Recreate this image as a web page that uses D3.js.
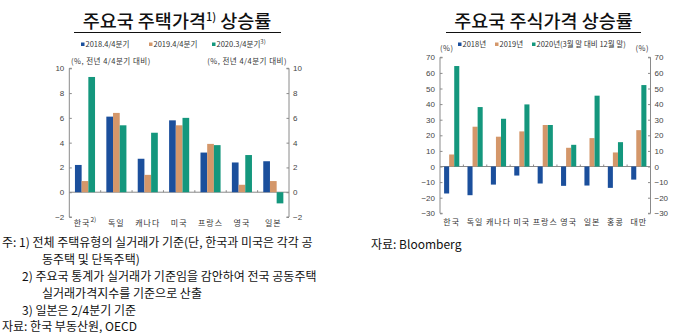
<!DOCTYPE html>
<html><head><meta charset="utf-8">
<script src="https://cdn.jsdelivr.net/npm/d3@7"></script>
<style>
body{margin:0;background:#fff;}
svg{display:block;font-family:"Noto Sans CJK KR","Noto Sans",sans-serif;}
</style></head>
<body><svg id="c" width="680" height="335"></svg>
<script>
// ---- Left chart data: 주요국 주택가격 상승률 ----
const houseCats = ["한국", "독일", "캐나다", "미국", "프랑스", "영국", "일본"];
const houseSeriesNames = ["2018.4/4분기", "2019.4/4분기", "2020.3/4분기"];
const house2018 = [2.2, 6.1, 2.7, 5.8, 3.2, 2.4, 2.5];
const house2019 = [0.9, 6.4, 1.4, 5.4, 3.9, 0.6, 0.9];
const house2020 = [9.3, 5.4, 4.8, 6.0, 3.8, 3.0, -0.9];
const houseTicks = [-2, 0, 2, 4, 6, 8, 10];

// ---- Right chart data: 주요국 주식가격 상승률 ----
const stockCats = ["한국", "독일", "캐나다", "미국", "프랑스", "영국", "일본", "홍콩", "대만"];
const stockSeriesNames = ["2018년", "2019년", "2020년(3월 말 대비 12월 말)"];
const stock2018 = [-17.3, -18.4, -11.6, -5.8, -10.9, -12.4, -12.2, -13.7, -8.4];
const stock2019 = [7.7, 25.5, 19.1, 22.5, 26.6, 12.0, 18.2, 9.0, 23.3];
const stock2020 = [64.4, 38.1, 30.6, 39.8, 26.6, 13.9, 45.4, 15.6, 52.2];
const stockTicks = [-30, -20, -10, 0, 10, 20, 30, 40, 50, 60, 70];

const colors = ["#1b4f9c", "#d4976a", "#14977d"];
const axisColor = "#8a8a8a";
const textColor = "#333";

const svg = d3.select("#c");

function drawChart(o) {
  const g = svg.append("g");
  const x0 = d3.scaleBand().domain(o.cats).range([o.x0, o.x1])
    .paddingInner(o.pin).paddingOuter(o.pout);
  const x1 = d3.scaleBand().domain([0, 1, 2]).range([0, x0.bandwidth()]);
  const y = d3.scaleLinear().domain(o.domain).range([o.yb, o.yt]);
  const rows = o.cats.map((c, i) => ({ c, v: o.series.map(s => s[i]) }));

  // left and right axes
  [["left", o.x0], ["right", o.x1]].forEach(([side, xp]) => {
    const ax = (side === "left" ? d3.axisLeft(y) : d3.axisRight(y))
      .tickValues(o.ticks).tickSize(-2.5).tickPadding(side === "left" ? 5 : 4)
      .tickFormat(d => d < 0 ? "\u2212" + Math.abs(d) : d);
    const a = g.append("g").attr("transform", `translate(${xp},0)`).call(ax);
    a.select(".domain").attr("stroke", axisColor)
      .attr("d", side === "left"
        ? `M2.5,${y(o.domain[1])}H0V${y(o.domain[0])}H2.5`
        : `M-2.5,${y(o.domain[1])}H0V${y(o.domain[0])}H-2.5`);
    a.selectAll(".tick line").attr("stroke", axisColor);
    a.selectAll(".tick text").attr("fill", "#444").style("font-size", "8px")
      .style("font-family", "Arial, 'Liberation Sans', sans-serif");
  });

  // zero baseline with separators
  const zero = y(0);
  g.append("line").attr("x1", o.x0).attr("x2", o.x1).attr("y1", zero).attr("y2", zero)
    .attr("stroke", axisColor).attr("stroke-width", 1);
  const step = x0.step();
  o.cats.slice(1).forEach(c => {
    const bx = x0(c) - step * o.pin / 2;
    g.append("line").attr("x1", bx).attr("x2", bx).attr("y1", zero).attr("y2", zero - 2)
      .attr("stroke", axisColor);
  });

  // bars
  const grp = g.selectAll(".grp").data(rows).join("g")
    .attr("transform", d => `translate(${x0(d.c)},0)`);
  grp.selectAll("rect").data(d => d.v.map((v, k) => ({ v, k }))).join("rect")
    .attr("x", d => x1(d.k)).attr("width", x1.bandwidth())
    .attr("y", d => y(Math.max(0, d.v)))
    .attr("height", d => Math.abs(y(d.v) - y(0)))
    .attr("fill", d => colors[d.k]);

  // category labels
  g.selectAll(".cat").data(o.cats).join("text")
    .attr("x", d => x0(d) + x0.bandwidth() / 2)
    .attr("y", o.catY).attr("text-anchor", "middle")
    .style("font-size", "8px").style("letter-spacing", "1px").attr("fill", textColor)
    .each(function (d) {
      const t = d3.select(this);
      t.append("tspan").text(d);
      if (o.catSup && o.catSup[d]) {
        t.append("tspan").attr("dy", -4).style("font-size", "6.5px").style("letter-spacing", "0px")
          .text(o.catSup[d]);
      }
    });

  // title
  const title = g.append("text").attr("x", o.titleX).attr("y", 28).attr("text-anchor", "middle")
    .style("font-size", "18.5px").style("font-weight", 500).attr("fill", "#111");
  o.title.forEach(p => {
    const ts = title.append("tspan").text(p.t);
    if (p.sup) ts.attr("dy", -7).style("font-size", "11px");
    if (p.back) ts.attr("dy", 7);
  });
  g.append("line").attr("x1", o.ulX0).attr("x2", o.ulX1).attr("y1", 32.5).attr("y2", 32.5)
    .attr("stroke", "#111").attr("stroke-width", 1.2);

  // legend
  o.legendX.forEach((lx, k) => {
    g.append("rect").attr("x", lx).attr("y", 42.5).attr("width", 3.5).attr("height", 3.5)
      .attr("fill", colors[k]);
    const t = g.append("text").attr("x", lx + 4.5).attr("y", 47).style("font-size", "7.5px")
      .attr("fill", textColor);
    t.append("tspan").text(o.names[k]);
    if (o.legendSup && o.legendSup[k]) {
      t.append("tspan").attr("dy", -3).style("font-size", "6px").text(o.legendSup[k]);
    }
  });

  // unit labels
  o.units.forEach(u => {
    g.append("text").attr("x", u.x).attr("y", u.y).attr("text-anchor", u.anchor)
      .style("font-size", "7.5px").style("letter-spacing", "0.5px").attr("fill", textColor).text(u.t);
  });
}

drawChart({
  cats: houseCats, series: [house2018, house2019, house2020], names: houseSeriesNames,
  x0: 69.3, x1: 289, pin: 0.36, pout: 0.18, domain: [-2, 10], yb: 217, yt: 68.3,
  ticks: houseTicks, catY: 226, catSup: { "한국": "2)" },
  title: [{ t: "주요국 주택가격" }, { t: "1)", sup: true }, { t: " 상승률", back: true }],
  titleX: 177, ulX0: 74, ulX1: 281,
  legendX: [81, 149, 212], legendSup: [null, null, "3)"],
  units: [{ t: "(%, 전년 4/4분기 대비)", x: 71, y: 64, anchor: "start" },
          { t: "(%, 전년 4/4분기 대비)", x: 287, y: 64, anchor: "end" }]
});

drawChart({
  cats: stockCats, series: [stock2018, stock2019, stock2020], names: stockSeriesNames,
  x0: 440, x1: 650.5, pin: 0.35, pout: 0.175, domain: [-30, 70], yb: 213.3, yt: 57.3,
  ticks: stockTicks, catY: 225,
  title: [{ t: "주요국 주식가격 상승률" }],
  titleX: 543.5, ulX0: 446, ulX1: 641,
  legendX: [458, 495, 532],
  units: [{ t: "(%)", x: 440, y: 51, anchor: "start" },
          { t: "(%)", x: 649, y: 51, anchor: "end" }]
});

// footnotes
const notes = [
  { t: "주: 1) 전체 주택유형의 실거래가 기준(단, 한국과 미국은 각각 공", x: 2, y: 247 },
  { t: "동주택 및 단독주택)", x: 42, y: 264 },
  { t: "2) 주요국 통계가 실거래가 기준임을 감안하여 전국 공동주택", x: 22, y: 281 },
  { t: "실거래가격지수를 기준으로 산출", x: 42, y: 298 },
  { t: "3) 일본은 2/4분기 기준", x: 22, y: 314.5 },
  { t: "자료: 한국 부동산원, OECD", x: 2, y: 331 },
  { t: "자료: Bloomberg", x: 371, y: 249 }
];
svg.selectAll(".note").data(notes).join("text")
  .attr("x", d => d.x).attr("y", d => d.y)
  .style("font-size", "12px").style("letter-spacing", "0px").attr("fill", "#111")
  .text(d => d.t);
</script></body></html>
